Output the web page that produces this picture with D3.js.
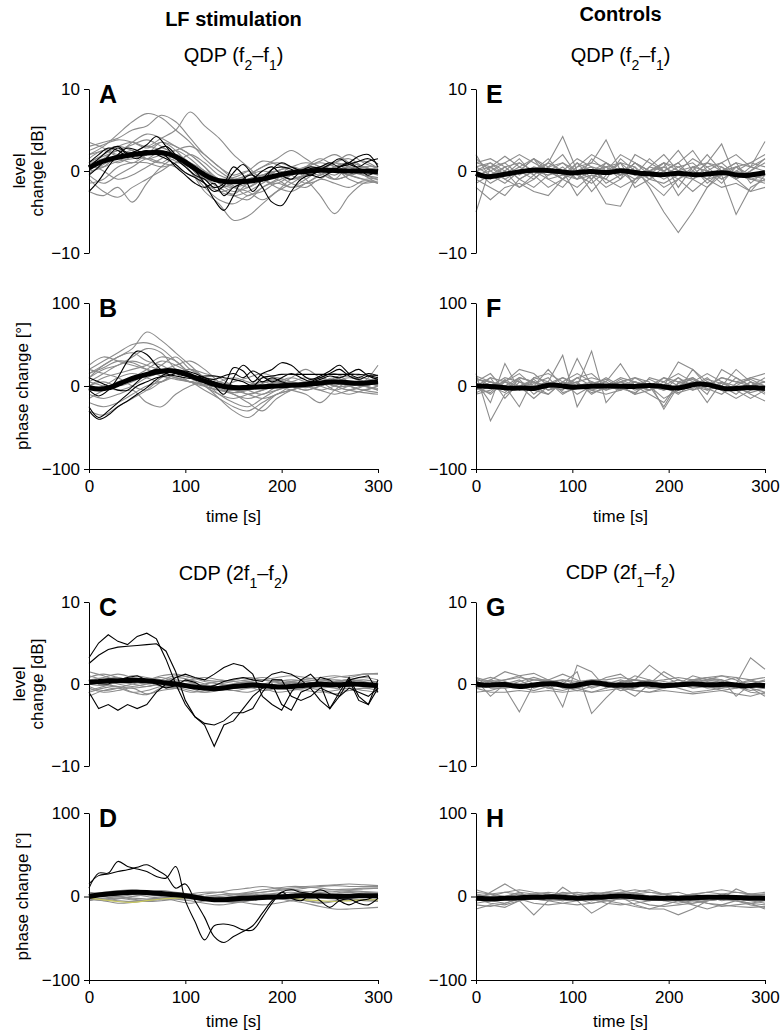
<!DOCTYPE html>
<html><head><meta charset="utf-8">
<script src="https://cdn.jsdelivr.net/npm/d3@7"></script>
<style>body{margin:0;background:#fff} svg{display:block} text{font-family:"Liberation Sans",Arial,Helvetica,sans-serif}</style>
</head><body><svg id="c" width="780" height="1033"></svg>
<script>
// ---------- sampling grids (time, s) ----------
const T10 = [0,10,20,30,40,50,60,70,80,90,100,110,120,130,140,150,160,170,180,190,200,210,220,230,240,250,260,270,280,290,300];
const T15 = [0,15,30,45,60,75,90,105,120,135,150,165,180,195,210,225,240,255,270,285,300];
const X_TICKS = [0,100,200,300];
const LEVEL_TICKS = [-10,0,10];
const PHASE_TICKS = [-100,0,100];

// ---------- Panel A: QDP level, LF stimulation ----------
const A_mean = [0.4,1.0,1.4,1.7,1.9,2.1,2.2,2.3,2.2,1.8,1.1,0.3,-0.5,-1.1,-1.3,-1.3,-1.3,-1.2,-1.0,-0.7,-0.4,-0.2,-0.1,0.0,0.1,0.1,0.0,0.0,0.0,0.0,-0.1];
const A_black = [
 [-2.5,-1.2,0.5,2.0,2.8,2.5,2.0,2.6,3.0,2.0,0.8,0.0,-1.5,-3.5,-4.8,-3.0,-1.0,-0.5,-2.0,-3.8,-4.2,-2.5,-1.0,-0.5,-0.8,-0.2,0.5,0.8,1.2,1.5,0.8],
 [0.5,1.5,2.5,3.0,2.2,2.5,3.2,4.2,3.0,1.5,0.5,-0.5,-1.0,-2.0,-1.5,0.5,-0.5,-2.5,-1.0,0.2,0.5,0.2,-0.3,0.3,0.5,1.0,0.5,1.0,1.8,2.0,0.5],
 [1.0,2.0,2.8,2.5,1.8,2.2,2.5,2.0,1.5,0.8,-0.2,-0.8,-1.5,-2.5,-1.8,-0.2,0.8,-0.5,-1.2,0.2,1.0,0.5,0.0,-0.5,0.2,0.8,1.5,0.8,0.5,1.2,1.5],
 [-0.5,0.5,1.8,2.8,2.0,1.5,2.3,2.5,1.8,0.5,-0.5,-1.5,-2.0,-1.5,-3.0,-2.0,-1.5,-1.0,0.0,0.5,-0.5,-1.0,0.0,0.5,0.3,-0.2,0.5,1.0,0.3,-0.5,0.2]
];
const A_gray = [
 [2,3,4.5,6,7,6.5,5,3.5,1.5,0,-1,-0.5,0.5,1,0.5,-0.5,0,1,0.5,-0.5,-1],
 [3,3.5,4,5,5.5,6.8,6,4,2,0.5,-1,-2,-1,0,0.5,1,0.5,-1,-0.5,0.5,-0.5],
 [1,2,3,3.5,3,4,5,7.2,5.5,4,2,0.5,-1,-1.5,-0.5,0.5,1.5,0.5,-1,-1.5,-1.2],
 [0,1.5,2.5,2,1.5,2.5,1.5,0,-2,-3.5,-4,-3,-2.5,-1.5,-2,-1,0,-0.5,0.5,0,-0.5],
 [-1,-2.5,-3.2,-2,-1,0,1,0.5,-1,-2.5,-2,-1,-0.5,-1,-2,-1.5,-0.5,0.5,1,0.5,0],
 [-2.5,-3.0,-2.0,-3.8,-1.5,0.5,1.5,0,-2.5,-4,-6,-5.5,-4,-2.5,-1,-0.5,0,-1,-0.5,0.5,0.5],
 [2.5,3.2,3.8,3.5,2.8,3.5,3,2,0.5,-1,-1.5,-1,-0.5,0,0.5,0,-0.5,0.5,1,0.5,-0.3],
 [1.5,2.5,1.8,2.2,3,2.5,1.5,1,0,-1.5,-2.5,-2,-1,-0.5,-1,-0.5,0.5,0,-0.5,-1,-1.5],
 [0.5,0.5,1.2,1.5,2,3.5,2.5,0.5,-1.5,-2.5,-3,-2.5,-1.5,-0.5,0,0.5,1,0.5,-0.5,0,0.5],
 [3.5,2.8,2,2.5,1.5,1,2,1,-0.5,-2,-1.5,-0.5,0.5,1.5,2.5,1.5,0.5,1,2,1,0.3],
 [-0.5,-1.5,-0.5,0.5,1.5,1,0.5,-0.5,-1,-2,-3,-3.5,-2,-1,0.5,-1,-3,-5.2,-3,-1.5,-1],
 [1,0,-1,-0.5,0.5,1.5,2.5,3,2,0.5,-0.5,0,-1,-2,-2.5,-1.5,-0.5,0,0.5,-0.5,-1.5],
 [2,2.5,3,2.5,1.5,2,2.5,1.5,0,-1,-2,-2.5,-3.5,-2.5,-1.5,-0.5,0,1,1.5,0.5,0.2],
 [0,0.5,2,3.5,4.5,4,3,2,0.5,-1.5,-2,-1.5,-1,0,-0.5,-1.5,-1,0,-0.5,-1,-0.8],
 [-1.5,-1,0.5,1,1,0.5,1,2,1,-0.5,-1,-0.5,0,-0.5,-1.5,-2,-1,-1.5,-2,-1.2,-1.5],
 [1.2,1.8,2.5,3.2,3.8,3,2,1,-0.3,-1,-0.8,0,1.2,0.8,0,0.5,1.2,2,1,0,0.5],
 [0.8,1.5,1,1.8,2.5,2,1.2,0.5,-0.8,-2,-2.8,-1.5,-0.5,0,-1,-0.5,0.5,1,0,-0.5,-0.8],
 [-0.3,0.8,1.5,1,2,2.8,2,0.8,-0.5,-1,-1.8,-3,-2,-1.2,-0.5,0.3,-0.3,-1,0.8,1.2,0.3]
];

// ---------- Panel B: QDP phase, LF stimulation ----------
const B_mean = [-2,-4,-3,2,7,11,14,17,19,18,15,10,6,2,-1,-2,-2,-1.5,-1,-0.5,0.5,1,1.5,2.5,3.5,5,5,4,3,4,5];
const B_black = [
 [-5,-12,-5,10,30,42,38,25,15,12,10,8,5,0,-10,10,25,15,5,10,5,2,0,5,10,15,20,12,8,12,10],
 [-30,-40,-35,-25,-18,-10,-2,8,15,18,14,12,10,5,2,22,18,5,15,20,28,25,15,8,12,18,25,15,10,15,12],
 [-25,-38,-30,-20,-10,0,5,10,12,15,18,15,10,8,12,15,10,18,12,5,10,15,10,5,8,12,10,15,20,12,8],
 [10,5,0,-5,-5,5,15,20,18,15,12,10,12,12,10,8,5,0,10,12,14,14,14,14,14,14,14,14,14,13,13]
];
const B_gray = [
 [20,30,40,50,52,45,30,15,0,-10,-15,-10,-5,0,5,0,-5,0,5,0,-5],
 [15,25,35,45,65,55,40,25,10,0,-5,0,5,10,5,0,5,10,5,0,5],
 [-20,-25,-20,-10,0,5,10,5,-5,-15,-25,-30,-20,-10,-5,0,-5,-10,-5,0,-5],
 [0,10,15,20,25,35,30,15,5,-10,-20,-25,-15,-5,0,5,0,-5,0,5,0],
 [25,35,30,25,20,15,10,5,0,-15,-30,-38,-25,-10,-5,0,5,0,-5,-8,-10],
 [-10,-15,-10,-5,-20,-25,-10,0,5,0,-5,-10,-15,-10,0,5,10,5,0,-5,0],
 [5,15,25,30,25,20,25,30,20,5,-5,0,10,5,0,-5,0,5,10,5,0],
 [-5,0,10,15,10,5,15,20,10,0,-10,-15,-10,-5,0,5,10,15,5,0,5],
 [10,20,25,35,45,40,20,10,5,0,5,10,15,10,5,0,5,0,-5,0,10],
 [20,15,10,0,-5,5,15,20,15,10,0,-5,-10,0,10,20,10,5,0,5,25],
 [-15,-5,5,10,20,30,25,15,0,-5,-5,0,5,0,-5,-10,-20,-5,5,0,-3],
 [5,0,-5,0,10,15,10,5,10,5,0,-10,-5,0,5,10,5,-5,-10,-5,0],
 [-30,-35,-25,-15,-5,10,20,10,0,-5,-10,-20,-30,-15,-5,0,5,0,0,5,10],
 [10,25,35,40,30,25,15,5,0,5,10,5,0,5,10,5,0,10,15,10,5],
 [0,5,0,5,15,25,35,20,10,0,-5,-5,0,5,0,-5,0,5,0,-5,-8],
 [15,22,30,28,20,12,8,5,2,-3,-8,-5,3,8,2,-2,4,8,12,6,2]
];

// ---------- Panel C: CDP level, LF stimulation ----------
const C_mean = [0.2,0.3,0.4,0.4,0.4,0.5,0.4,0.3,0.1,0,-0.2,-0.4,-0.5,-0.6,-0.5,-0.3,-0.2,-0.1,-0.2,-0.3,-0.4,-0.3,-0.2,-0.1,0,-0.1,-0.1,0,0,-0.1,-0.2];
const C_black = [
 [3.2,5.0,6.0,5.2,4.8,5.8,6.2,5.5,3.0,0.0,-2.5,-4.0,-4.8,-5.0,-4.5,-3.5,-3.5,-3.0,-1.0,0.5,0.5,-1.5,-2.0,-1.5,-0.5,-1.0,-1.5,-0.5,-1.0,-1.5,-0.5],
 [2.5,3.5,4.2,4.5,4.6,4.7,4.8,4.9,4.0,1.5,-2.0,-4.0,-5.0,-7.6,-5.0,-4.5,-3.0,-1.5,-0.5,0.0,-2.5,-3.2,-1.0,-0.5,-2.0,-3.0,-1.0,0.8,-1.5,-2.5,0.5],
 [-1.0,-3.0,-2.5,-3.2,-2.5,-3.0,-2.5,-1.0,0.0,0.8,1.2,0.8,0.5,1.2,2.0,2.5,2.2,1.2,-1.5,-2.5,-3.2,-1.0,0.5,1.2,0.0,-3.0,-1.5,0.5,-2.0,-2.5,-0.5],
 [0.5,0.0,0.0,0.5,0.8,1.0,0.5,0.0,-0.5,-0.2,0.5,0.2,-0.5,-0.2,0.3,0.6,0.8,0.5,0.3,1.2,1.5,1.2,0.5,-0.5,0.8,0.5,-0.5,0.5,0.8,1.0,-1.0]
];
const C_gray = [
 [1.5,1,0.5,1,0.8,0.5,0.2,0,-0.3,0,0.3,0.5,0.8,0.5,0.3,0.6,0.8,1,0.8,1.2,1.2],
 [-0.5,-1,-0.8,-0.5,-1.2,-0.8,-0.5,0,-0.2,-0.5,-0.8,-1,-0.5,-0.3,-0.6,-0.8,-1,-0.8,-0.5,-0.8,-1],
 [0.5,0.8,1.2,0.8,0.5,0.8,0.3,-0.2,-0.5,-0.3,0,0.3,0.5,0.2,0,0.3,0.5,0.2,0.5,0.8,0.5],
 [-1,-0.5,-0.3,-1,-1.3,-0.5,0,-0.5,-1,-0.8,-0.5,-0.3,-0.5,-1,-0.8,-0.5,-0.3,-0.5,-0.8,-0.5,-0.3],
 [0,0.5,0.8,0.3,0,0.3,0.8,0.5,0,-0.5,-0.8,-0.5,0,0.3,0.5,0.3,0,0.3,0.5,0.3,0],
 [1,0.5,0,-0.3,0,0.5,1,0.8,0.3,0,-0.3,-0.5,-0.3,0,0.3,0.5,0.3,0,-0.3,0,0.3],
 [-0.3,-0.8,-0.5,0,0.3,0,-0.3,-0.8,-1,-0.5,0,0.3,0,-0.3,-0.5,-0.3,0,0.3,0.5,0.3,-0.5],
 [0.3,0,-0.3,-0.5,-0.3,0,0.3,0.5,0.8,0.5,0.3,0,-0.3,-0.5,-0.3,0,0.3,0.5,0.3,0,-0.3],
 [-0.8,-0.3,0.3,0.5,0.3,-0.3,-0.5,-0.3,0,0.3,0.5,0.8,0.5,0.3,0,-0.3,-0.5,-0.3,0,-0.3,-0.5],
 [0.8,1.2,0.8,0.5,0.5,1,1.2,0.8,0.5,0.3,0.5,0.8,0.5,0.8,1,0.8,0.5,0.8,1,1.2,1.3],
 [-1.5,-0.8,-0.5,-1,-0.8,-0.3,-0.5,-1,-0.8,-0.3,0,-0.3,-0.8,-0.5,0,-0.3,-0.8,-1.2,-0.8,-0.5,-0.8],
 [0,-0.2,0.2,0,-0.3,0.2,0.5,0.2,-0.2,-0.5,-0.2,0.2,0,-0.2,0.2,0,-0.2,0,0.3,0.5,0.2]
];

// ---------- Panel D: CDP phase, LF stimulation ----------
const D_mean = [0,2,3,4,5,5,5,4,3,2,1,-1,-3,-4,-4,-3,-2,-2,-1,-1,0,0,1,1,1,0,0,0,1,1,1];
const D_black = [
 [10,28,28,42,36,33,30,24,22,36,-5,-30,-52,-35,-33,-35,-40,-40,-25,-8,5,8,5,3,-5,-13,-5,-3,-8,-10,-2],
 [15,25,27,30,32,35,38,32,25,10,15,-5,-25,-48,-55,-48,-42,-35,-20,-5,5,-2,-5,3,8,3,-5,-10,-5,-3,2]
];
const D_gray = [
 [5,3,0,-3,-5,-3,0,3,5,5,3,5,8,10,12,12,13,14,15,14,13],
 [-3,-5,-8,-7,-5,-3,-2,0,3,5,8,10,12,10,8,10,12,13,12,12,12],
 [0,2,5,3,0,-2,-5,-8,-5,-2,0,2,0,-2,-5,-3,0,3,5,3,2],
 [-2,-5,-3,0,2,0,-3,-5,-8,-10,-8,-5,-3,-2,-5,-8,-12,-15,-15,-14,-13],
 [3,5,7,8,6,4,2,0,-2,-3,-2,0,2,4,5,3,2,4,6,5,4],
 [-5,-3,-2,-4,-6,-5,-3,-2,0,2,3,2,0,-2,-3,-5,-7,-5,-3,-4,-5],
 [2,0,-2,0,3,5,3,0,-3,-5,-6,-5,-3,0,3,5,7,8,9,10,10],
 [0,3,5,6,5,3,0,-2,-3,-2,0,3,5,7,8,6,5,6,7,6,5],
 [-1,-3,-5,-6,-4,-2,0,2,0,-3,-5,-8,-10,-8,-5,-3,-2,-3,-5,-4,-3],
 [4,2,0,2,5,7,5,3,0,0,2,4,5,8,10,11,10,8,8,9,10],
 [-4,-2,0,-2,-3,-2,0,0,-2,-5,-7,-5,-2,0,-2,-5,-8,-6,-4,-5,-6],
 [1,4,6,5,3,1,-1,-3,-4,-3,-1,1,3,2,0,1,3,2,0,1,2]
];
const D_yellow = [-2,-4,-6,-7,-5,-3,-2,-1,-2,-3,-4,-3,-2,-1,-2,-4,-5,-6,-5,-4,-4];

// ---------- Panel E: QDP level, controls ----------
const E_mean = [-0.3,-0.8,-0.6,-0.4,-0.2,0,0.1,0.1,0,-0.1,-0.3,-0.1,0,-0.2,-0.2,0.1,-0.1,-0.3,-0.3,-0.5,-0.4,-0.2,-0.4,-0.5,-0.4,-0.2,-0.2,-0.5,-0.6,-0.4,-0.2];
const E_gray = [
 [2,-1,0.5,-1,0,1,4.2,0,-1,0.5,-0.5,1,0,-0.5,0.5,1,-0.5,0,1,0.5,0],
 [-5,0.5,-1,0,1.5,0.5,-1,0.5,1,3.8,0,-1,0.5,0,-1,0.5,1,0,-1,0,1],
 [0,-1.5,-0.5,0.5,-0.5,-2,-1,1,-1,-4,-4.3,-1,0,0.5,-0.5,0,-1,0.5,-0.5,-1,-0.5],
 [-0.5,0,1,-0.5,0.5,0,1,-0.5,0,0.5,1,0.5,-2,-5,-7.5,-5,-2,0,0.5,-0.5,0],
 [0.5,1,0,1.5,-0.5,1,0,-1,1.5,0,-0.5,1,0,1,0.5,-0.5,1,3.3,-1,0.5,3.6],
 [-1,-2,-3,-1,0,-1,-0.5,1,0,-1,1.5,0,-1,0.5,2.5,0,-1,-0.5,-5.3,-2,-1],
 [1,0.5,1.8,0.5,1.5,0,-1,0,1,0.5,-1,2,1,0,1,-1,0,1,2,0.5,1.5],
 [-2,-3.5,-2,-1.5,-2.5,-3,-1,-2,-0.5,-1,-2,-1,-0.5,-2,-1,-2.5,-1,-2,-1.5,-2.5,-2],
 [0,1,-0.5,0,-1,0.5,2,-0.5,-1.5,0,1,-0.5,0,-1,0,1.5,0.5,-1,0,1,0.5],
 [1.5,0,-1,-2,-0.5,1,0,-3,-1,1,0,-0.5,1.5,0,-3,-1,0.5,1,-0.5,-1,-1.5],
 [-1,0.5,1,2,1,0,-1,0.5,2,1,-0.5,0,-1.5,-3,-1,0,2,0,-1,-2.5,-0.5],
 [0.5,-0.5,-1.5,0,1.5,-1,-2,0,0.5,-1.5,-0.5,1,0,1,-2,0.5,0,-1.5,0.5,1,2],
 [-0.5,-1,0,-2,-1,0.5,1,0,-2.5,-0.5,1,-2,-1,0,1,2.5,0,-1,0,-0.5,-1],
 [1,1.5,0.5,1,0,-0.5,0,1.5,0.5,0,2,1,-0.5,1,0,-0.5,1,0.5,-1,0,1.5],
 [-1.5,-0.5,0.5,-1,-2,-0.5,0.5,-1,-0.5,-2,-1,0.5,-1,-1.5,-0.5,-1,-2,-0.5,0.5,-1,-1.2],
 [0,0.5,-0.5,1,0,1.5,-0.5,-1,0,1,0,-1.5,0.5,2,0,0.5,-1.5,0,1,-1.5,0]
];

// ---------- Panel F: QDP phase, controls ----------
const F_mean = [0,0,-1,-2,-3,-2,-4,0,2,0,-2,-1,0,0,0,0,-1,0,1,0,-2,-3,0,3,2,-1,-4,-3,-2,-2,-3];
const F_gray = [
 [15,-42,-10,0,5,-5,0,10,0,-5,5,0,-5,10,0,-5,5,0,-10,5,0],
 [5,-20,27,-5,0,-10,5,0,42,-20,0,5,0,-5,10,0,-5,5,0,10,5],
 [-5,5,0,-25,10,5,37,-25,5,0,-5,10,5,-28,0,5,-20,5,-5,0,-10],
 [10,0,5,20,15,0,-5,33,0,5,27,0,-5,0,29,20,5,0,20,5,-5],
 [0,10,-15,5,0,20,0,5,-10,0,5,-5,0,-25,5,0,10,-5,0,-10,-18],
 [-10,-5,5,0,-15,0,10,0,5,-5,0,-10,10,5,-5,20,0,10,5,0,10],
 [8,5,0,10,5,-5,0,5,10,5,-5,5,0,-5,0,10,-5,0,-5,-15,-5],
 [-5,10,5,-5,10,15,5,-10,0,10,0,-10,-5,5,15,5,-10,20,10,0,5],
 [0,-10,5,15,0,5,-10,0,-5,0,10,5,0,-15,-5,0,5,-5,-15,-5,0],
 [12,5,-5,0,8,-5,5,15,5,0,-5,0,8,0,10,-5,0,10,5,10,15],
 [-8,0,10,5,-5,-10,5,0,-5,-10,-5,5,-5,0,-10,5,15,5,-5,5,-8],
 [5,15,-5,10,5,0,-5,10,15,0,5,10,0,10,5,10,0,-5,10,0,5],
 [-3,-8,8,-3,3,10,-8,-3,3,8,-3,-8,3,-3,-8,-3,8,3,-3,-8,-3],
 [3,0,-8,8,-10,3,10,3,-8,-3,8,0,-10,-20,3,8,-3,-10,3,8,0]
];

// ---------- Panel G: CDP level, controls ----------
const G_mean = [0,-0.2,-0.1,0,-0.3,-0.3,-0.1,0,0.1,-0.2,-0.3,0,0.2,0.1,-0.2,-0.1,-0.2,0,0,-0.2,-0.2,-0.1,0,0,-0.1,-0.1,0,-0.1,-0.3,-0.1,-0.2];
const G_gray = [
 [0.8,-0.5,-0.5,-3.4,0,0.5,-2.8,2.3,1.5,-0.5,0,0.5,2.3,1,0,0.5,0,-0.5,0,3.2,1.8],
 [-0.5,0.5,1.5,1,0,-0.5,0,1.5,-3.6,-1.7,0,1,0.5,-0.5,0,1,0.5,1,0.5,-0.5,-1],
 [0.5,-1.5,0,0.5,-0.5,0,0.5,0,0.5,0,-0.5,-1.5,0,1.5,0.5,0,0.5,0.5,-1.5,0,0.5],
 [-0.3,0.3,-0.5,0,0.5,0.5,-0.5,-0.5,0,0.8,1.2,0,-0.5,-0.5,0,0.5,0.8,0.3,0.8,-0.5,-1.5],
 [0.3,0.8,0.3,-0.3,-0.8,-0.3,0.3,-0.5,-1,-0.5,0.3,0.5,0.3,0,-0.5,-1,-0.8,-0.5,-0.3,-1,-1.2],
 [-1,-0.8,-0.3,0.3,0.8,0.3,-0.3,-0.8,-0.3,0,-0.3,-0.8,-1,-0.5,0,0.3,0.5,0.2,-0.3,-0.8,-0.5],
 [0.5,0.3,0.5,0.8,0.5,0.3,0.5,0.3,0.5,0.5,0.8,0.5,0.3,0.5,0.8,0.5,0.8,1,0.8,0.5,0.8],
 [-0.5,-1,-1,-0.8,-1,-0.8,-1,-0.8,-1,-0.8,-0.5,-0.8,-1,-0.8,-1,-1.2,-1,-0.8,-1.2,-1.5,-1],
 [0,0.5,0,-0.5,0,0.5,1.2,0.5,-0.5,0,0.5,0,-0.5,0,0.5,0,-0.5,-0.3,0,0.5,0],
 [0.2,-0.3,0.2,0,-0.3,0,-0.3,0.2,0,-0.3,0.2,0.5,0,-0.5,-0.3,0,0.3,0,-0.5,-0.3,0],
 [-0.5,0,0.5,1,1.3,0.5,0,-0.5,0,0.3,0,-0.3,0.5,0,-0.3,0.3,0.8,0.5,0,0.3,0.3],
 [0.8,0.3,-0.5,-0.3,0,-0.5,-0.8,-0.3,0.3,0,-0.8,-0.5,0,0.3,0,-0.5,-0.3,-0.8,-0.5,0,-0.3]
];

// ---------- Panel H: CDP phase, controls ----------
const H_mean = [-2,-3,-3,-2,-2,-1,-1,-1,0,-1,-2,-2,-1,-1,0,1,0,-1,-2,-2,-2,-2,-2,-1,-1,-1,-1,-1,-2,-2,-2];
const H_gray = [
 [-5,5,15,5,-3,-5,11,0,-5,0,5,3,0,-3,-5,-8,-5,-3,9,2,0],
 [-15,-10,-13,-5,-22,-5,0,-5,-20,-10,0,5,0,-5,0,3,0,-5,-3,0,3],
 [5,3,0,5,3,0,5,3,0,5,8,3,0,3,5,0,-3,3,5,3,0],
 [0,-5,-8,-3,0,3,0,-3,-5,-3,0,-10,-15,-10,-5,-3,-8,-10,-12,-13,-12],
 [3,0,-3,0,3,5,3,0,3,5,3,5,8,3,-5,-10,-15,-10,-5,-8,-10],
 [-8,-5,0,-3,-8,-10,-8,-5,-3,-5,-8,-12,-15,-15,-22,-15,-5,-3,-5,-8,-15],
 [8,3,-3,0,3,0,3,5,3,0,-3,3,5,3,0,3,5,3,0,3,5],
 [-3,-8,-10,-5,-3,-5,-8,-10,-8,-5,-3,-5,-10,-12,-10,-8,-5,-3,-5,-10,-13],
 [0,3,5,3,0,-3,-5,-3,0,3,5,8,5,3,0,-3,-5,-3,0,2,3],
 [-5,-3,0,3,0,-5,-3,0,-3,-8,-10,-8,-5,-3,-3,-5,-3,0,-3,-5,-8],
 [2,0,5,8,5,3,0,2,5,3,0,-3,-5,-3,0,2,5,8,5,3,2],
 [-10,-12,-8,-3,0,-3,-5,-3,-8,-5,-3,0,-3,-5,-8,-5,-8,-12,-10,-8,-5]
];

// ---------- panel table ----------
const panels = [
 {id:'A', col:0, row:0, kind:'level', gray:A_gray, black:A_black, mean:A_mean, smoothBlack:true},
 {id:'B', col:0, row:1, kind:'phase', gray:B_gray, black:B_black, mean:B_mean, smoothBlack:true},
 {id:'C', col:0, row:2, kind:'level', gray:C_gray, black:C_black, mean:C_mean, smoothBlack:false},
 {id:'D', col:0, row:3, kind:'phase', gray:D_gray, black:D_black, mean:D_mean, yellow:D_yellow, smoothBlack:true},
 {id:'E', col:1, row:0, kind:'level', gray:E_gray, black:[], mean:E_mean},
 {id:'F', col:1, row:1, kind:'phase', gray:F_gray, black:[], mean:F_mean},
 {id:'G', col:1, row:2, kind:'level', gray:G_gray, black:[], mean:G_mean},
 {id:'H', col:1, row:3, kind:'phase', gray:H_gray, black:[], mean:H_mean}
];

const svg = d3.select('#c');
const colX = [89, 476], plotW = 289;
const rowY = [[89,253],[303,469],[602,766],[813,980]];
const timeLabelGap = [0, 53, 0, 47];
const FONT = '"Liberation Sans", Arial, Helvetica, sans-serif';

panels.forEach(p => {
  const x = d3.scaleLinear().domain([0,300]).range([colX[p.col], colX[p.col] + plotW]);
  const [yt, yb] = rowY[p.row];
  const y = d3.scaleLinear().domain(p.kind === 'level' ? [-10,10] : [-100,100]).range([yb, yt]);
  const g = svg.append('g');

  const grayCurve = p.col === 0 ? d3.curveCatmullRom.alpha(0.5) : d3.curveLinear;
  const lineG = d3.line().x((d,i) => x(T15[i])).y(d => y(d)).curve(grayCurve);
  const lineB = d3.line().x((d,i) => x(T10[i])).y(d => y(d))
    .curve(p.smoothBlack ? d3.curveCatmullRom.alpha(0.5) : d3.curveLinear);
  const lineM = d3.line().x((d,i) => x(T10[i])).y(d => y(d)).curve(d3.curveBasis);

  g.selectAll('path.gray').data(p.gray).enter().append('path')
    .attr('class','gray').attr('d', lineG)
    .attr('fill','none').attr('stroke','#8c8c8c').attr('stroke-width',1.1);
  if (p.yellow) {
    g.append('path').attr('d', lineG(p.yellow))
      .attr('fill','none').attr('stroke','#c8c860').attr('stroke-width',1.2);
  }
  g.selectAll('path.black').data(p.black).enter().append('path')
    .attr('class','black').attr('d', lineB)
    .attr('fill','none').attr('stroke','#000').attr('stroke-width',1.1);
  g.append('path').attr('d', lineM(p.mean))
    .attr('fill','none').attr('stroke','#000').attr('stroke-width',5)
    .attr('stroke-linejoin','round').attr('stroke-linecap','butt');

  // y axis
  const ya = g.append('g').attr('transform', `translate(${colX[p.col]},0)`)
    .call(d3.axisLeft(y).tickValues(p.kind === 'level' ? LEVEL_TICKS : PHASE_TICKS)
      .tickSize(5).tickSizeOuter(0).tickPadding(4));
  ya.attr('font-size', 17).attr('font-family', FONT);
  ya.selectAll('path,line').attr('stroke','#000');
  ya.selectAll('text').attr('fill','#000');

  // x axis on phase panels
  if (p.kind === 'phase') {
    const xa = g.append('g').attr('transform', `translate(0,${yb})`)
      .call(d3.axisBottom(x).tickValues(X_TICKS).tickSize(4).tickSizeOuter(0).tickPadding(7));
    xa.attr('font-size', 17).attr('font-family', FONT);
    xa.selectAll('path,line').attr('stroke','#000');
    xa.selectAll('text').attr('fill','#000');
    g.append('text').attr('x', colX[p.col] + plotW/2).attr('y', yb + timeLabelGap[p.row])
      .attr('text-anchor','middle').attr('font-size',17).text('time [s]');
  }

  // panel letter
  g.append('text').attr('x', colX[p.col] + 10).attr('y', yt + 14)
    .attr('font-size', 25).attr('font-weight','bold').text(p.id);

  // y titles (left column only)
  if (p.col === 0) {
    const mid = (yt + yb) / 2;
    if (p.kind === 'level') {
      g.append('text').attr('transform', `translate(25,${mid}) rotate(-90)`)
        .attr('text-anchor','middle').attr('font-size',17).text('level');
      g.append('text').attr('transform', `translate(43,${mid}) rotate(-90)`)
        .attr('text-anchor','middle').attr('font-size',17).text('change [dB]');
    } else {
      g.append('text').attr('transform', `translate(28,${mid}) rotate(-90)`)
        .attr('text-anchor','middle').attr('font-size',17).text('phase change [°]');
    }
  }
});

// column headings
svg.append('text').attr('x', colX[0] + plotW/2).attr('y', 26).attr('text-anchor','middle')
  .attr('font-size',20).attr('font-weight','bold').text('LF stimulation');
svg.append('text').attr('x', colX[1] + plotW/2).attr('y', 21).attr('text-anchor','middle')
  .attr('font-size',20).attr('font-weight','bold').text('Controls');

// subplot titles with subscripts
function subTitle(cx, yBase, parts) {
  const t = svg.append('text').attr('x', cx).attr('y', yBase).attr('text-anchor','middle').attr('font-size',20);
  let prevSub = false;
  parts.forEach(([s, sub]) => {
    const ts = t.append('tspan').text(s);
    if (sub) { ts.attr('font-size',14).attr('dy', prevSub ? 0 : 8); }
    else { ts.attr('dy', prevSub ? -8 : 0); }
    prevSub = !!sub;
  });
}
const QDP_PARTS = [['QDP (f',0],['2',1],['\u2013f',0],['1',1],[')',0]];
const CDP_PARTS = [['CDP (2f',0],['1',1],['\u2013f',0],['2',1],[')',0]];
subTitle(colX[0] + plotW/2, 62, QDP_PARTS);
subTitle(colX[1] + plotW/2, 62, QDP_PARTS);
subTitle(colX[0] + plotW/2, 580, CDP_PARTS);
subTitle(colX[1] + plotW/2, 579, CDP_PARTS);
</script></body></html>
